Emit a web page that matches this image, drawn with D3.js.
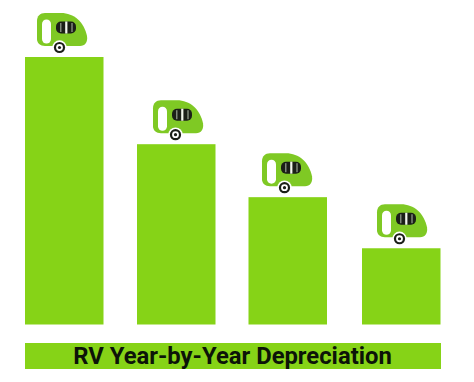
<!DOCTYPE html>
<html><head><meta charset="utf-8">
<style>html,body{margin:0;padding:0;background:#fff}svg{display:block}</style>
<script src="https://cdnjs.cloudflare.com/ajax/libs/d3/7.8.5/d3.min.js"></script>
</head><body><div id="chart"></div>
<script>
const years = ["Year 1","Year 2","Year 3","Year 4"];
const values = [100, 67.4, 47.6, 28.5];
const chartTitle = "RV Year-by-Year Depreciation";

const W = 474, H = 382, green = "#86d317", iconGreen = "#7fc924", ink = "#0c1408";
const x = d3.scaleOrdinal().domain(years).range([25, 137, 248.5, 362]);
const iconX = d3.scaleOrdinal().domain(years).range([37, 153, 262, 377]);
const y = d3.scaleLinear().domain([0, 100]).range([324.5, 57]);
const barW = 78.5;

const svg = d3.select("#chart").append("svg").attr("width", W).attr("height", H);

svg.append("g").selectAll("rect").data(years).join("rect")
  .attr("x", d => x(d)).attr("width", barW)
  .attr("y", (d, i) => y(values[i]))
  .attr("height", (d, i) => y(0) - y(values[i]))
  .attr("fill", green);

const icon = svg.append("g").selectAll("g").data(years).join("g")
  .attr("transform", (d, i) => `translate(${iconX(d)},${y(values[i]) - 44})`);

// trailer body
icon.append("path").attr("fill", iconGreen)
  .attr("d", "M8,0 H24 C37,0 47,9 50,23 C51,29 48,33 43,33 H8 C3,33 0,30 0,26 V8 C0,3 3,0 8,0 Z");
// door
icon.append("rect").attr("x", 5).attr("y", 6.5).attr("width", 9).attr("height", 24).attr("rx", 4.5).attr("fill", "#fff");
// window
icon.append("rect").attr("x", 19).attr("y", 8.5).attr("width", 20).attr("height", 12).attr("rx", 5).attr("fill", "#1b1f18");
icon.append("rect").attr("x", 23.2).attr("y", 10).attr("width", 1.2).attr("height", 9).attr("fill", "#9aa394");
icon.append("rect").attr("x", 28.2).attr("y", 8.5).attr("width", 2.2).attr("height", 12).attr("fill", "#f4f8ee");
icon.append("rect").attr("x", 34.4).attr("y", 10).attr("width", 1.2).attr("height", 9).attr("fill", "#9aa394");
// wheel
icon.append("circle").attr("cx", 22.5).attr("cy", 34.5).attr("r", 7.2).attr("fill", "#fff");
icon.append("circle").attr("cx", 22.5).attr("cy", 34.5).attr("r", 5.6).attr("fill", "#1b1f18");
icon.append("circle").attr("cx", 22.5).attr("cy", 34.5).attr("r", 3.4).attr("fill", "#fff");
icon.append("circle").attr("cx", 22.5).attr("cy", 34.5).attr("r", 1.6).attr("fill", "#1b1f18");

// title band
svg.append("rect").attr("x", 25).attr("y", 343).attr("width", 416).attr("height", 26).attr("fill", green);
svg.append("text").attr("x", 232.5).attr("y", 364).attr("text-anchor", "middle")
  .attr("font-family", "Roboto, sans-serif").attr("font-weight", 700).attr("font-size", 23.8)
  .attr("fill", ink).text(chartTitle);
</script></body></html>
